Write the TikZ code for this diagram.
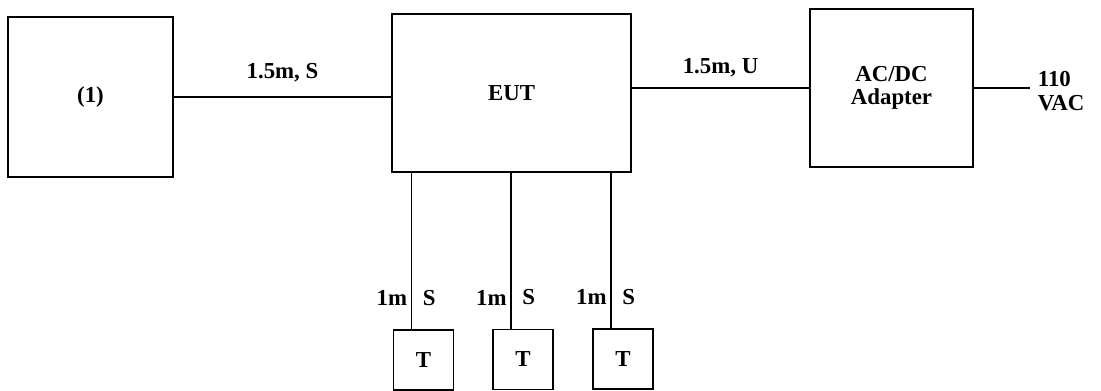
\documentclass[tikz,border=0pt]{standalone}
\usepackage{fontspec}
\setmainfont{Liberation Serif}
\usetikzlibrary{positioning, calc}
\tikzset{
  box/.style  ={draw, line width=1pt, align=center, inner sep=2pt,
                font=\fontsize{13}{13.5}\selectfont\bfseries},
  term/.style ={box, minimum width=1.2cm, minimum height=1.2cm},
  wire/.style ={line width=1pt},
  lbl/.style  ={font=\fontsize{13}{13.5}\selectfont\bfseries, inner sep=2pt},
}

\begin{document}
\begin{tikzpicture}[x=0.02cm, y=-0.02cm]
  \useasboundingbox (0,0) rectangle (1101,391);

  \node[box, minimum width=3.3cm,  minimum height=3.2cm]  (aux)  at (90.5,97)  {(1)};
  \node[box, minimum width=4.78cm, minimum height=3.16cm] (eut)  at (511.5,93) {EUT};
  \node[box, minimum width=3.26cm, minimum height=3.16cm] (adpt) at (891.5,88) {AC/DC\\Adapter};
  \node[term] (t1) at (423.5,360) {T};
  \node[term] (t2) at (523,359.5) {T};
  \node[term] (t3) at (623,359)   {T};
  \coordinate (mains) at (1030,88);
  \node[lbl, align=left, anchor=west] (vac) at (1034,91) {110\\VAC};

  \draw[wire] (aux.east |- 0,97) -- node[lbl, above=6pt]{1.5m, S} (eut.west |- 0,97);
  \draw[wire] (eut.east |- adpt.west) -- node[lbl, above=4pt]{1.5m, U} (adpt.west);
  \draw[wire] (adpt.east) -- (mains);

  % cables to the terminals
  \foreach \t in {t1,t2,t3}
    \draw[wire] ([xshift=-0.24cm]\t.north) -- ([xshift=-0.24cm]\t.north |- eut.south)
      node[lbl, left, pos=0.2]{1m}
      node[lbl, right, pos=0.2, xshift=0.14cm]{S};
\end{tikzpicture}
\end{document}
